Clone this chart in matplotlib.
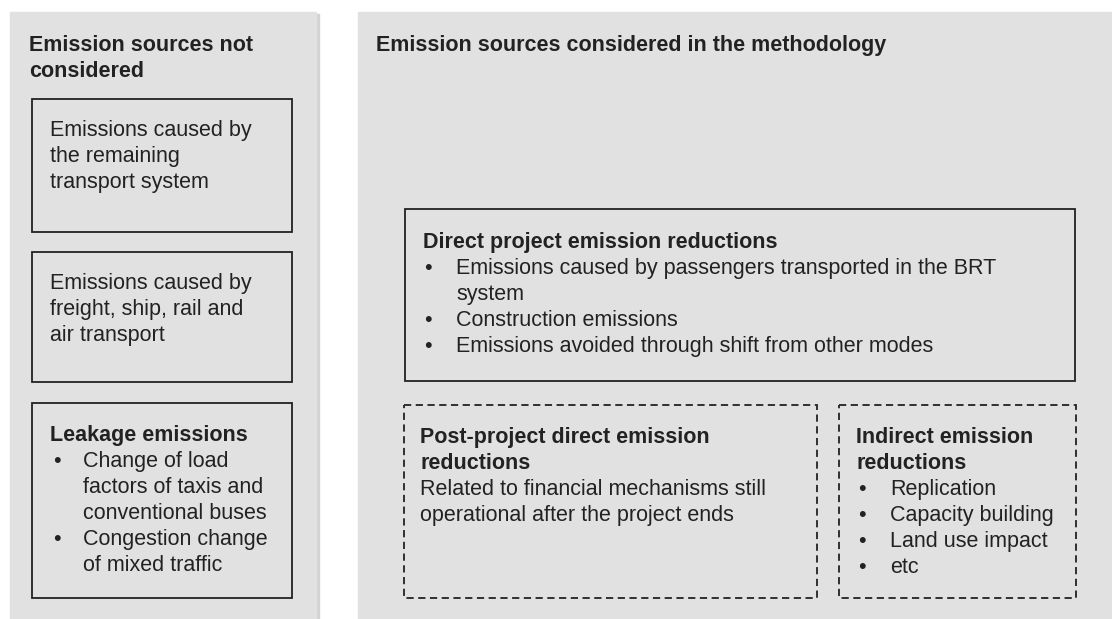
import matplotlib.pyplot as plt
from matplotlib.patches import Rectangle

plt.rcParams["font.family"] = ["Liberation Sans", "DejaVu Sans"]
plt.rcParams["font.size"] = 15.5

left_title = "Emission sources not\nconsidered"
right_title = "Emission sources considered in the methodology"

box1_text = ["Emissions caused by", "the remaining", "transport system"]
box2_text = ["Emissions caused by", "freight, ship, rail and", "air transport"]
leak_title = "Leakage emissions"
leak_items = [["Change of load", "factors of taxis and", "conventional buses"],
              ["Congestion change", "of mixed traffic"]]

direct_title = "Direct project emission reductions"
direct_items = [["Emissions caused by passengers transported in the BRT", "system"],
                ["Construction emissions"],
                ["Emissions avoided through shift from other modes"]]

post_title = ["Post-project direct emission", "reductions"]
post_text = ["Related to financial mechanisms still", "operational after the project ends"]

indirect_title = ["Indirect emission", "reductions"]
indirect_items = ["Replication", "Capacity building", "Land use impact", "etc"]

panel_col = "#e1e1e1"
line_h = 26

fig = plt.figure(figsize=(11.12, 6.19), dpi=100)
ax = fig.add_axes([0, 0, 1, 1])
ax.set_xlim(0, 1112)
ax.set_ylim(619, 0)
ax.axis("off")

# panels with a faint shadow
for x0, w in [(10, 306), (358, 760)]:
    ax.add_patch(Rectangle((x0 + 3, 14), w, 620, color="#d4d4d4", zorder=0))
    ax.add_patch(Rectangle((x0, 12), w, 620, color=panel_col, zorder=1))

def box(x, y, w, h, ls="-"):
    ax.add_patch(Rectangle((x, y), w, h, fill=False, ec="#222222", lw=1.3,
                           ls=(0, (4, 2.5)) if ls == "--" else "-", zorder=2))

# y is the line centre; draw on the baseline so all lines sit evenly
def lines(x, y, rows, bold=False):
    for i, r in enumerate(rows):
        ax.text(x, y + i * line_h + 6, r, va="baseline", ha="left", color="#222222",
                fontweight="bold" if bold else "normal", zorder=3)
    return y + len(rows) * line_h

def bullets(xb, xt, y, items):
    for it in items:
        ax.text(xb, y + 6, "\u2022", va="baseline", ha="left", color="#222222", zorder=3)
        y = lines(xt, y, it)
    return y

# left panel
lines(29, 45, left_title.split("\n"), bold=True)
box(32, 99, 260, 133)
lines(50, 130, box1_text)
box(32, 252, 260, 130)
lines(50, 283, box2_text)
box(32, 403, 260, 195)
y = lines(50, 435, [leak_title], bold=True)
bullets(53, 83, y, leak_items)

# right panel
lines(376, 45, [right_title], bold=True)
box(405, 209, 670, 172)
y = lines(423, 242, [direct_title], bold=True)
bullets(424, 456, y, direct_items)

box(404, 405, 413, 193, ls="--")
y = lines(420, 437, post_title, bold=True)
lines(420, y, post_text)

box(839, 405, 237, 193, ls="--")
y = lines(856, 437, indirect_title, bold=True)
bullets(858, 890, y, [[s] for s in indirect_items])

fig.savefig("out.png", dpi=100, facecolor="white")
